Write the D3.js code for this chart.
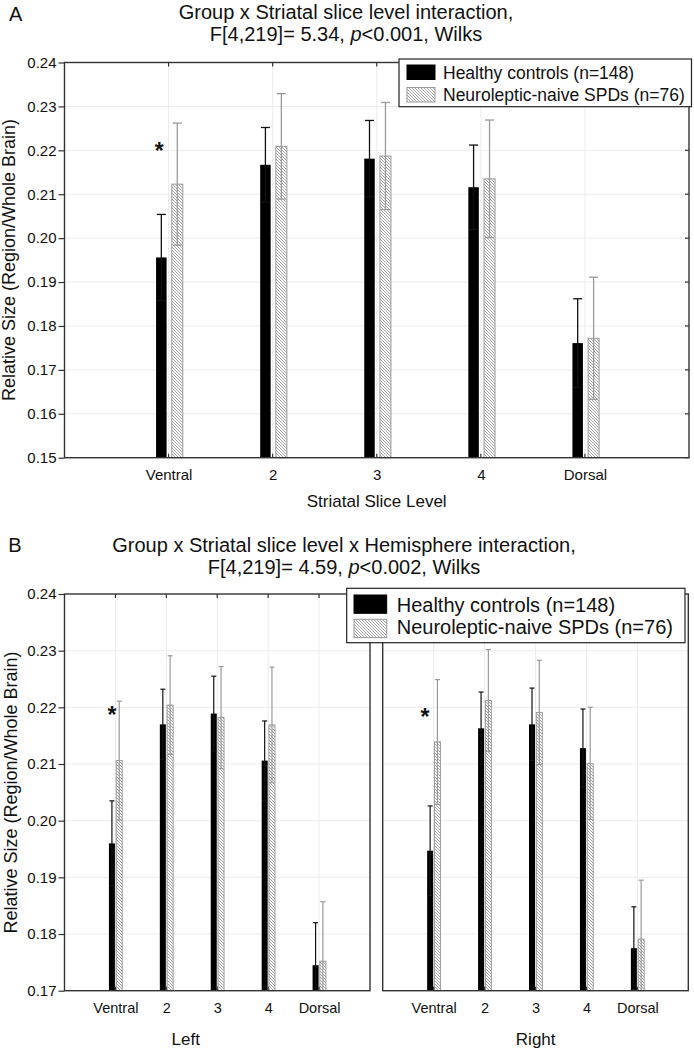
<!DOCTYPE html>
<html>
<head>
<meta charset="utf-8">
<script src="https://cdn.jsdelivr.net/npm/d3@7"></script>
<style>
  html, body { margin: 0; padding: 0; background: #fff; }
  svg { display: block; font-family: "Liberation Sans", Arial, sans-serif; }
</style>
</head>
<body>
<svg id="chart" width="694" height="1050"></svg>
<script>
// ---------------- data ----------------
const categories = ["Ventral", "2", "3", "4", "Dorsal"];
const seriesNames = ["Healthy controls (n=148)", "Neuroleptic-naive SPDs (n=76)"];

// Panel A: Group x Striatal slice level
const controlsA    = [0.1956, 0.2167, 0.2181, 0.2116, 0.1761];
const controlsAErr = [0.0098, 0.0085, 0.0087, 0.0096, 0.0101];
const spdA         = [0.2123, 0.2209, 0.2187, 0.2135, 0.1772];
const spdAErr      = [0.0139, 0.0120, 0.0122, 0.0134, 0.0139];

// Panel B: Left hemisphere
const controlsLeft    = [0.1960, 0.2170, 0.2189, 0.2106, 0.1745];
const controlsLeftErr = [0.0075, 0.0062, 0.0066, 0.0070, 0.0075];
const spdLeft         = [0.2106, 0.2204, 0.2182, 0.2169, 0.1752];
const spdLeftErr      = [0.0105, 0.0087, 0.0090, 0.0102, 0.0105];

// Panel B: Right hemisphere
const controlsRight    = [0.1947, 0.2163, 0.2170, 0.2128, 0.1775];
const controlsRightErr = [0.0079, 0.0064, 0.0064, 0.0069, 0.0073];
const spdRight         = [0.2139, 0.2212, 0.2191, 0.2101, 0.1791];
const spdRightErr      = [0.0110, 0.0090, 0.0092, 0.0099, 0.0104];

const yTicksA = [0.15, 0.16, 0.17, 0.18, 0.19, 0.20, 0.21, 0.22, 0.23, 0.24];
const yTicksB = [0.17, 0.18, 0.19, 0.20, 0.21, 0.22, 0.23, 0.24];

// significance markers: category and height
const sigA     = { cat: "Ventral", value: 0.2210 };
const sigLeft  = { cat: "Ventral", value: 0.2195 };
const sigRight = { cat: "Ventral", value: 0.2192 };

const titleA = ["Group x Striatal slice level interaction,", "F[4,219]= 5.34, |p|<0.001, Wilks"];
const titleB = ["Group x Striatal slice level x Hemisphere interaction,", "F[4,219]= 4.59, |p|<0.002, Wilks"];
const yAxisTitle = "Relative Size (Region/Whole Brain)";

// ---------------- drawing ----------------
const svg = d3.select("#chart");
svg.append("rect").attr("width", 694).attr("height", 1050).attr("fill", "#fff");

const defs = svg.append("defs");
const pat = defs.append("pattern")
  .attr("id", "hatch").attr("patternUnits", "userSpaceOnUse")
  .attr("width", 3).attr("height", 3);
pat.append("rect").attr("width", 3).attr("height", 3).attr("fill", "#fff");
pat.append("path").attr("d", "M-1,2 L1,4 M0,0 L3,3 M2,-1 L4,1")
  .attr("stroke", "#9a9a9a").attr("stroke-width", 0.9);

const textColor = "#111";

function titleLines(lines, cx, baselines) {
  lines.forEach((ln, i) => {
    const t = svg.append("text").attr("x", cx).attr("y", baselines[i])
      .attr("text-anchor", "middle").attr("font-size", 20).attr("fill", textColor);
    ln.split("|").forEach((part, j) => {
      const ts = t.append("tspan").text(part);
      if (j === 1) ts.attr("font-style", "italic");
    });
  });
}

function drawPanel(o) {
  const g = svg.append("g");
  const x = d3.scaleLinear().domain([0, 6]).range([o.x0, o.x1]);
  const yMin = o.ticks[0];
  const y = d3.scaleLinear().domain([yMin, o.ticks[o.ticks.length - 1]]).range([o.y0, o.y1]);
  const cx = i => x(i + 1);

  // grid
  g.append("g").selectAll("line.h").data(o.ticks.slice(1, -1)).join("line")
    .attr("x1", o.x0).attr("x2", o.x1).attr("y1", d => y(d)).attr("y2", d => y(d))
    .attr("stroke", "#ececec").attr("stroke-width", 1);
  g.append("g").selectAll("line.v").data(categories).join("line")
    .attr("x1", (d, i) => cx(i)).attr("x2", (d, i) => cx(i))
    .attr("y1", o.y1).attr("y2", o.y0)
    .attr("stroke", "#ececec").attr("stroke-width", 1);

  // bars
  const bw = o.barW;
  g.append("g").selectAll("rect").data(o.ctrl).join("rect")
    .attr("x", (d, i) => cx(i) + o.ctrlOff).attr("width", bw[0])
    .attr("y", d => y(d)).attr("height", d => o.y0 - y(d))
    .attr("fill", "#000");
  g.append("g").selectAll("rect").data(o.spd).join("rect")
    .attr("x", (d, i) => cx(i) + o.spdOff).attr("width", bw[1])
    .attr("y", d => y(d)).attr("height", d => o.y0 - y(d))
    .attr("fill", "url(#hatch)").attr("stroke", "#9a9a9a").attr("stroke-width", 1);

  // error bars (lower whisker clipped at the axis minimum)
  function errs(vals, errsArr, off, w, color) {
    const eg = g.append("g").attr("stroke", color).attr("stroke-width", o.errW).attr("fill", "none");
    vals.forEach((v, i) => {
      const xc = cx(i) + off + w / 2;
      const loVal = v - errsArr[i];
      const hi = y(v + errsArr[i]), lo = y(Math.max(loVal, yMin));
      eg.append("line").attr("x1", xc).attr("x2", xc).attr("y1", hi).attr("y2", lo);
      eg.append("line").attr("x1", xc - o.cap / 2).attr("x2", xc + o.cap / 2).attr("y1", hi).attr("y2", hi);
      if (loVal >= yMin) {
        eg.append("line").attr("x1", xc - o.cap / 2).attr("x2", xc + o.cap / 2).attr("y1", lo).attr("y2", lo);
      }
    });
  }
  errs(o.spd, o.spdErr, o.spdOff, bw[1], "#9a9a9a");
  errs(o.ctrl, o.ctrlErr, o.ctrlOff, bw[0], "#111");

  // inner ticks top / bottom at categories
  g.append("g").selectAll("line").data(categories).join("line")
    .attr("x1", (d, i) => cx(i)).attr("x2", (d, i) => cx(i))
    .attr("y1", o.y1).attr("y2", o.y1 + 4).attr("stroke", "#333").attr("stroke-width", 1.2);
  g.append("g").selectAll("line").data(categories).join("line")
    .attr("x1", (d, i) => cx(i)).attr("x2", (d, i) => cx(i))
    .attr("y1", o.y0).attr("y2", o.y0 - 4).attr("stroke", "#333").attr("stroke-width", 1.2);
  if (o.rightTicks) {
    g.append("g").selectAll("line").data(o.ticks).join("line")
      .attr("x1", o.x1).attr("x2", o.x1 - 4).attr("y1", d => y(d)).attr("y2", d => y(d))
      .attr("stroke", "#333").attr("stroke-width", 1.2);
  }

  // frame
  g.append("rect").attr("x", o.x0).attr("y", o.y1).attr("width", o.x1 - o.x0).attr("height", o.y0 - o.y1)
    .attr("fill", "none").attr("stroke", "#333").attr("stroke-width", 1.4);

  // y axis
  if (o.yLabels) {
    const ya = d3.axisLeft(y).tickValues(o.ticks).tickFormat(d3.format(".2f")).tickSize(6).tickPadding(2);
    const yg = g.append("g").attr("transform", `translate(${o.x0},0)`).call(ya);
    yg.select(".domain").remove();
    yg.selectAll("line").attr("stroke", "#333").attr("stroke-width", 1.2);
    yg.selectAll("text").attr("font-size", 15).attr("fill", textColor)
      .attr("font-family", '"Liberation Sans", Arial, sans-serif');
  }

  // x axis labels
  const xa = d3.axisBottom(x).tickValues([1, 2, 3, 4, 5]).tickFormat(d => categories[d - 1])
    .tickSize(0).tickPadding(o.xPad);
  const xg = g.append("g").attr("transform", `translate(0,${o.y0})`).call(xa);
  xg.select(".domain").remove();
  xg.selectAll("text").attr("font-size", o.xFont).attr("fill", textColor)
    .attr("font-family", '"Liberation Sans", Arial, sans-serif');

  // significance
  if (o.sig) {
    const i = categories.indexOf(o.sig.cat);
    g.append("text").attr("x", cx(i) + o.sigOff).attr("y", y(o.sig.value) + 13)
      .attr("text-anchor", "middle").attr("font-size", 23).attr("font-weight", "bold")
      .attr("fill", textColor).text("*");
  }
  return { x, y };
}

function legend(o) {
  const g = svg.append("g");
  g.append("rect").attr("x", o.x).attr("y", o.y).attr("width", o.w).attr("height", o.h)
    .attr("fill", "#fff").attr("stroke", "#222").attr("stroke-width", 1.2);
  const fills = ["#000", "url(#hatch)"];
  const strokes = ["#000", "#9a9a9a"];
  seriesNames.forEach((name, i) => {
    g.append("rect").attr("x", o.sx).attr("y", o.sy[i]).attr("width", o.sw).attr("height", o.sh)
      .attr("fill", fills[i]).attr("stroke", strokes[i]).attr("stroke-width", 1);
    g.append("text").attr("x", o.tx).attr("y", o.ty[i]).attr("font-size", o.font)
      .attr("fill", textColor).text(name);
  });
}

// ----- Panel A -----
svg.append("text").attr("x", 9).attr("y", 20.5).attr("font-size", 20).attr("fill", textColor).text("A");
titleLines(titleA, 346, [19, 41]);
drawPanel({
  x0: 64.5, x1: 689, y0: 457.7, y1: 62.5, ticks: yTicksA,
  ctrl: controlsA, ctrlErr: controlsAErr, spd: spdA, spdErr: spdAErr,
  barW: [10.5, 11], ctrlOff: -12.5, spdOff: 3.2, cap: 9, errW: 1.3,
  yLabels: true, rightTicks: true, xPad: 11.5, xFont: 15,
  sig: sigA, sigOff: -9.4
});
svg.append("text").attr("transform", "translate(15,260) rotate(-90)")
  .attr("text-anchor", "middle").attr("font-size", 18).attr("fill", textColor).text(yAxisTitle);
svg.append("text").attr("x", 376.7).attr("y", 506.5).attr("text-anchor", "middle")
  .attr("font-size", 17).attr("fill", textColor).text("Striatal Slice Level");
legend({ x: 399, y: 59, w: 292.5, h: 47.7, sx: 407, sy: [65, 87.5], sw: 28, sh: 14.5,
  tx: 443, ty: [79.3, 101], font: 17.5 });

// ----- Panel B -----
svg.append("text").attr("x", 8.3).attr("y", 551.5).attr("font-size", 20).attr("fill", textColor).text("B");
titleLines(titleB, 344, [551.5, 573.5]);
drawPanel({
  x0: 64.5, x1: 370, y0: 990.7, y1: 594, ticks: yTicksB,
  ctrl: controlsLeft, ctrlErr: controlsLeftErr, spd: spdLeft, spdErr: spdLeftErr,
  barW: [6, 6], ctrlOff: -6.5, spdOff: 0.8, cap: 5, errW: 1.2,
  yLabels: true, rightTicks: false, xPad: 12, xFont: 14.5,
  sig: sigLeft, sigOff: -3.4
});
drawPanel({
  x0: 382.7, x1: 688.3, y0: 990.7, y1: 594, ticks: yTicksB,
  ctrl: controlsRight, ctrlErr: controlsRightErr, spd: spdRight, spdErr: spdRightErr,
  barW: [6, 6], ctrlOff: -6.5, spdOff: 0.8, cap: 5, errW: 1.2,
  yLabels: false, rightTicks: false, xPad: 12, xFont: 14.5,
  sig: sigRight, sigOff: -8.6
});
svg.append("text").attr("transform", "translate(16.5,792.5) rotate(-90)")
  .attr("text-anchor", "middle").attr("font-size", 18).attr("fill", textColor).text(yAxisTitle);
svg.append("text").attr("x", 185.8).attr("y", 1045).attr("text-anchor", "middle")
  .attr("font-size", 17).attr("fill", textColor).text("Left");
svg.append("text").attr("x", 535.7).attr("y", 1045).attr("text-anchor", "middle")
  .attr("font-size", 17).attr("fill", textColor).text("Right");
legend({ x: 346.7, y: 588.3, w: 338.3, h: 54.4, sx: 354, sy: [595, 619.3], sw: 32.7, sh: 18.3,
  tx: 396.7, ty: [611.7, 634.3], font: 20 });
</script>
</body>
</html>
